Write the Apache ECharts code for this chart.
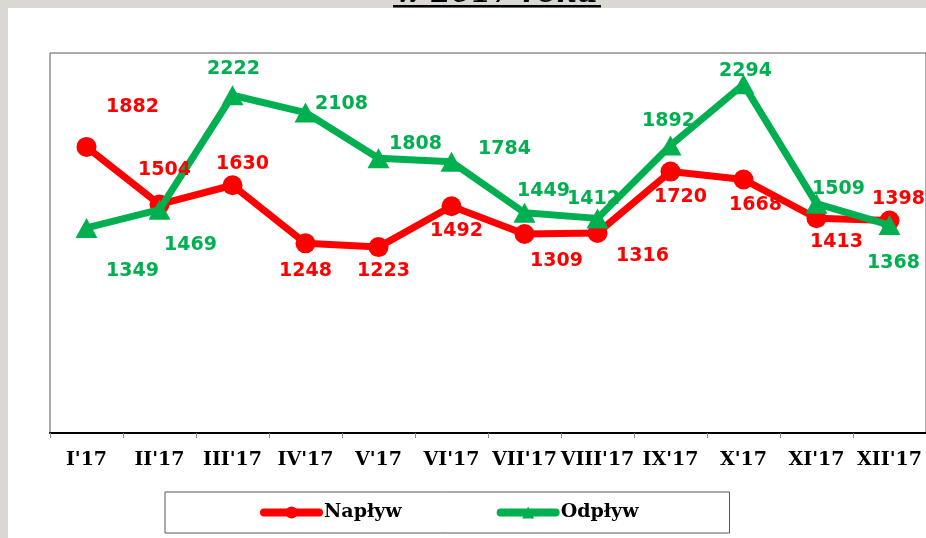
<!DOCTYPE html>
<html>
<head>
<meta charset="utf-8">
<script src="https://cdn.jsdelivr.net/npm/echarts@6/dist/echarts.min.js"></script>
<style>
html,body{margin:0;padding:0;background:#dbd7d3;overflow:hidden;}
#bg{position:absolute;left:8px;top:8px;width:918px;height:530px;background:#ffffff;}
#chart{position:absolute;left:0;top:0;width:926px;height:538px;}
</style>
</head>
<body>
<div id="bg"></div>
<div id="chart"></div>
<script>
// ---- data ----
const categories = ["I'17","II'17","III'17","IV'17","V'17","VI'17","VII'17","VIII'17","IX'17","X'17","XI'17","XII'17"];
const naplyw = [1882, 1504, 1630, 1248, 1223, 1492, 1309, 1316, 1720, 1668, 1413, 1398];
const odplyw = [1349, 1469, 2222, 2108, 1808, 1784, 1449, 1412, 1892, 2294, 1509, 1368];
const seriesNames = ["Napływ", "Odpływ"];
const titleText = "w 2017 roku";

// ---- layout of data labels (pixel offsets from each marker) ----
const naplywLabelOffsets = [[46,-40],[5,-34],[10,-21],[0,28],[5,24],[5,25],[32,27],[45,23],[10,26],[12,26],[20,24],[9,-21]];
const odplywLabelOffsets = [[46,43],[31,35],[1,-26],[36,-9],[37,-14],[53,-13],[19,-22],[-4,-19],[-2,-24],[2,-13],[22,-15],[4,38]];

const RED = '#ff0000', GREEN = '#00b050';
const labelFont = {fontFamily: '"DejaVu Sans", Verdana, sans-serif', fontWeight: 'bold', fontSize: 19};
const serifFont = '"DejaVu Serif", serif';

function buildData(vals, offs) {
  return vals.map((v, i) => ({value: v, label: {offset: offs[i]}}));
}

function lineSeries(name, vals, color, symbol, size, z) {
  return {
    name: name, type: 'line', data: vals.slice(),
    symbol: symbol, symbolSize: size,
    lineStyle: {color: color, width: 7},
    itemStyle: {color: color},
    label: {show: false},
    z: z
  };
}
function labelSeries(name, vals, offs, color) {
  return {
    name: name, type: 'line', data: buildData(vals, offs),
    symbol: 'circle', symbolSize: 1,
    lineStyle: {width: 0, opacity: 0},
    itemStyle: {color: 'rgba(0,0,0,0)'},
    label: Object.assign({show: true, position: 'inside', color: color}, labelFont),
    emphasis: {disabled: true},
    z: 10
  };
}

const chart = echarts.init(document.getElementById('chart'), null, {renderer: 'canvas'});
chart.setOption({
  animation: false,
  backgroundColor: 'transparent',
  graphic: [
    {type: 'text', x: 497, y: 9, style: {text: titleText, align: 'center', verticalAlign: 'bottom', fill: '#000', font: 'italic bold 29px "DejaVu Serif", serif'}},
    {type: 'rect', shape: {x: 393, y: 5, width: 208, height: 2.5}, style: {fill: '#000'}}
  ],
  grid: {left: 50, top: 53, right: -4, bottom: 105, show: true, borderColor: '#5a5a5a', borderWidth: 1, backgroundColor: 'transparent'},
  legend: {
    left: 165, top: 492,
    padding: [11, 91, 11, 95],
    borderColor: '#595959', borderWidth: 1,
    itemWidth: 55, itemHeight: 15, itemGap: 95,
    lineStyle: {width: 8, cap: 'round'},
    textStyle: {fontFamily: serifFont, fontWeight: 'bold', fontSize: 19, color: '#000'},
    data: seriesNames
  },
  xAxis: {
    type: 'category',
    data: categories,
    boundaryGap: true,
    axisLine: {show: true, lineStyle: {color: '#000', width: 2}},
    axisTick: {show: true, length: 5, lineStyle: {color: '#888'}},
    axisLabel: {interval: 0, margin: 18, color: '#000', fontFamily: serifFont, fontWeight: 'bold', fontSize: 19},
    splitLine: {show: false}
  },
  yAxis: {
    type: 'value', min: 0, max: 2500,
    show: false,
    splitLine: {show: false}
  },
  series: [
    lineSeries(seriesNames[0], naplyw, RED, 'circle', 20, 2),
    lineSeries(seriesNames[1], odplyw, GREEN, 'triangle', [22, 20], 3),
    labelSeries('lbl-' + seriesNames[0], naplyw, naplywLabelOffsets, RED),
    labelSeries('lbl-' + seriesNames[1], odplyw, odplywLabelOffsets, GREEN)
  ]
});
</script>
</body>
</html>
